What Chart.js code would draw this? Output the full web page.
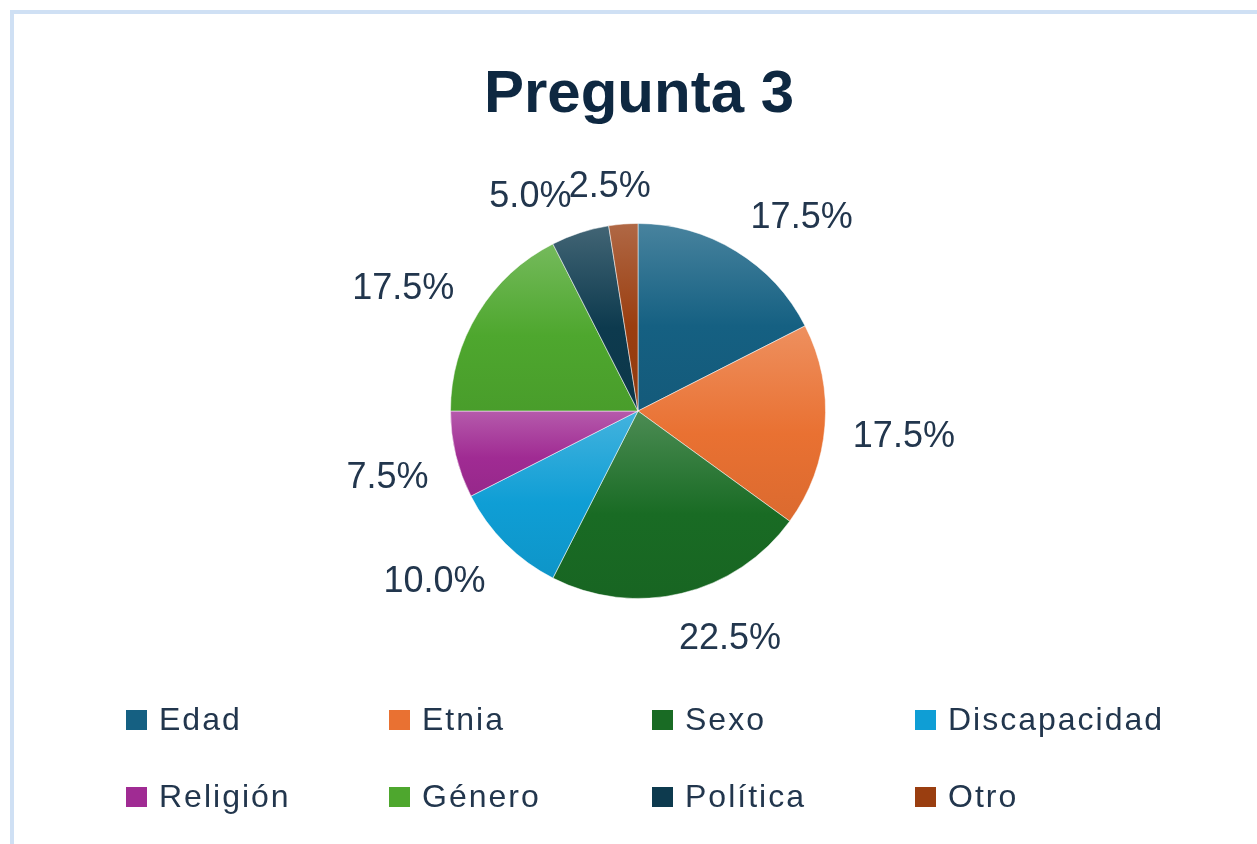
<!DOCTYPE html>
<html>
<head>
<meta charset="utf-8">
<script src="https://cdn.jsdelivr.net/npm/chart.js@4/dist/chart.umd.min.js"></script>
<style>
    html, body { margin: 0; padding: 0; background: #fff; overflow: hidden; }
    .frame {
        position: absolute; left: 10px; top: 10px; width: 1400px; height: 1000px;
        border-left: 4px solid #cfe0f4; border-top: 4px solid #cfe0f4;
    }
    #chart { position: absolute; left: 0; top: 0; }
</style>
</head>
<body>
<div class="frame"></div>
<canvas id="chart" width="1257" height="844"></canvas>
<script>
const chartTitle = 'Pregunta 3'
const categories = ['Edad', 'Etnia', 'Sexo', 'Discapacidad', 'Religión', 'Género', 'Política', 'Otro']
const percentages = [17.5, 17.5, 22.5, 10.0, 7.5, 17.5, 5.0, 2.5]
const sliceColors = ['#156082', '#E97132', '#196B24', '#0F9ED5', '#A02B93', '#4EA72E', '#0D3A4E', '#9A3E10']

const textColor = '#22364d'

// lighten (amt > 0) or darken (amt < 0) a hex colour
const shade = (hex, amt) => {
    const n = parseInt(hex.slice(1), 16)
    const ch = [n >> 16, (n >> 8) & 255, n & 255].map(c =>
        Math.round(amt >= 0 ? c + (255 - c) * amt : c * (1 + amt)))
    return `rgb(${ch[0]},${ch[1]},${ch[2]})`
}

// vertical gradient per slice, lighter on top like the office fill
const sliceFill = (context) => {
    const chart = context.chart
    const area = chart.chartArea
    const i = context.dataIndex
    const base = sliceColors[i]
    if (!area) return base
    const cx = (area.left + area.right) / 2
    const cy = (area.top + area.bottom) / 2
    const r = Math.min(area.width, area.height) / 2
    const total = percentages.reduce((a, b) => a + b, 0)
    const before = percentages.slice(0, i).reduce((a, b) => a + b, 0)
    const a0 = before / total * Math.PI * 2
    const a1 = (before + percentages[i]) / total * Math.PI * 2
    const ys = [cy, cy - r * Math.cos(a0), cy - r * Math.cos(a1)]
    if (a0 <= 0.0001) ys.push(cy - r)
    if (a0 <= Math.PI && a1 >= Math.PI) ys.push(cy + r)
    const top = Math.min(...ys)
    const bottom = Math.max(...ys)
    const g = chart.ctx.createLinearGradient(0, top, 0, bottom)
    g.addColorStop(0, shade(base, 0.22))
    g.addColorStop(0.55, base)
    g.addColorStop(1, shade(base, -0.06))
    return g
}

const titlePlugin = {
    id: 'sheetTitle',
    afterDraw(chart) {
        const ctx = chart.ctx
        ctx.save()
        ctx.font = 'bold 60px "Liberation Sans", Arial, sans-serif'
        ctx.fillStyle = '#0E2841'
        ctx.textAlign = 'center'
        ctx.textBaseline = 'alphabetic'
        ctx.fillText(chartTitle, 639, 112)
        ctx.restore()
    }
}

const outsideLabels = {
    id: 'outsideLabels',
    afterDatasetsDraw(chart) {
        const ctx = chart.ctx
        const clamp = t => Math.max(-1, Math.min(1, t * 3.5))
        ctx.save()
        ctx.font = '36px "Liberation Sans", Arial, sans-serif'
        ctx.fillStyle = textColor
        ctx.textAlign = 'center'
        ctx.textBaseline = 'middle'
        chart.getDatasetMeta(0).data.forEach((arc, i) => {
            const {x, y, startAngle, endAngle, outerRadius} = arc.getProps(['x', 'y', 'startAngle', 'endAngle', 'outerRadius'], true)
            const mid = (startAngle + endAngle) / 2
            const dx = Math.cos(mid)
            const dy = Math.sin(mid)
            const text = percentages[i].toFixed(1) + '%'
            const w = ctx.measureText(text).width
            const h = 28
            const ax = x + (outerRadius + 28) * dx
            const ay = y + (outerRadius + 28) * dy
            ctx.fillText(text, ax + w / 2 * clamp(dx), ay + h / 2 * clamp(dy) + 5)
        })
        ctx.restore()
    }
}

const gridLegend = {
    id: 'gridLegend',
    afterDraw(chart) {
        const ctx = chart.ctx
        const perRow = 4
        ctx.save()
        ctx.font = '32px "Liberation Sans", Arial, sans-serif'
        ctx.letterSpacing = '2px'
        ctx.textBaseline = 'middle'
        ctx.textAlign = 'left'
        categories.forEach((name, i) => {
            const col = i % perRow
            const row = Math.floor(i / perRow)
            const bx = 126 + col * 263
            const by = 720 + row * 77
            ctx.fillStyle = sliceColors[i]
            ctx.fillRect(bx, by - 10, 21, 20)
            ctx.fillStyle = textColor
            ctx.fillText(name, bx + 33, by + 1)
        })
        ctx.restore()
    }
}

new Chart(document.getElementById('chart'), {
    type: 'pie',
    data: {
        labels: categories,
        datasets: [{
            data: percentages,
            backgroundColor: sliceFill,
            borderColor: 'rgba(255,255,255,0.5)',
            borderWidth: 1
        }]
    },
    options: {
        responsive: false,
        animation: false,
        devicePixelRatio: 1,
        layout: {padding: {top: 223, bottom: 245, left: 19, right: 0}},
        plugins: {
            legend: {display: false},
            tooltip: {enabled: false},
            title: {display: false}
        }
    },
    plugins: [titlePlugin, outsideLabels, gridLegend]
})
</script>
</body>
</html>
